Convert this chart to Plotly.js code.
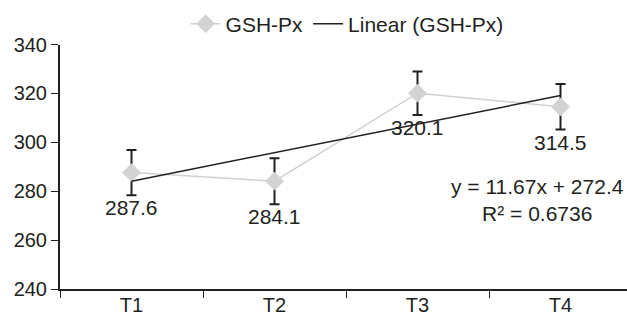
<!DOCTYPE html>
<html>
<head>
<meta charset="utf-8">
<script src="https://cdn.plot.ly/plotly-3.0.1.min.js"></script>
<style>html,body{margin:0;padding:0;background:#fff;}#chart{width:627px;height:320px;}</style>
</head>
<body>
<div id="chart"></div>
<script>
var categories = ["T1", "T2", "T3", "T4"];
var gshPx = [287.6, 284.1, 320.1, 314.5];
var gshPxErr = [9.3, 9.4, 8.9, 9.3];
var valueLabels = ["287.6", "284.1", "320.1", "314.5"];
var trendValues = [284.1, 295.7, 307.4, 319.1];
var yTicks = [240, 260, 280, 300, 320, 340];
var equationText = "y = 11.67x + 272.4<br>R\u00b2 = 0.6736";

var ink = "#231f20";
var font = "Liberation Sans, Arial, sans-serif";

var traces = [
  {
    x: categories, y: gshPx, name: "GSH-Px", type: "scatter", mode: "lines+markers",
    line: {color: "#d0d0d0", width: 1.5},
    marker: {symbol: "diamond", size: 14.5, color: "#d3d3d3"},
    error_y: {type: "data", array: gshPxErr, visible: true, color: ink, thickness: 2, width: 5}
  },
  {
    x: categories, y: trendValues, name: "Linear (GSH-Px)", type: "scatter", mode: "lines",
    line: {color: ink, width: 1.5}
  }
];

var annotations = categories.map(function (c, i) {
  return {x: c, y: gshPx[i] - gshPxErr[i], xref: "x", yref: "y", text: valueLabels[i],
          showarrow: false, yanchor: "top", yshift: 1, font: {family: font, size: 21, color: ink}};
});
annotations.push({x: 0.843, y: 276.3, xref: "paper", yref: "y", text: equationText, showarrow: false,
  xanchor: "center", yanchor: "middle", align: "center", font: {family: font, size: 21, color: ink}});

var layout = {
  width: 627, height: 320,
  margin: {l: 60, r: 0, t: 33, b: 31},
  paper_bgcolor: "#fff", plot_bgcolor: "#fff",
  font: {family: font, size: 20, color: ink},
  showlegend: true,
  legend: {orientation: "h", xref: "container", yref: "container", x: 0.296, y: 0.925,
           xanchor: "left", yanchor: "middle", font: {family: font, size: 21, color: ink},
           bgcolor: "rgba(0,0,0,0)"},
  xaxis: {type: "category", range: [-0.5, 3.465], showgrid: false, zeroline: false,
          showline: true, linecolor: ink, linewidth: 2, ticks: "outside", tickson: "boundaries",
          ticklen: 7, tickcolor: ink, tickwidth: 1, ticklabelstandoff: -3,
          tickfont: {family: font, size: 20, color: ink}},
  yaxis: {range: [240, 340], tickvals: yTicks, showgrid: false, zeroline: false,
          showline: true, linecolor: ink, linewidth: 2, ticks: "outside", ticklen: 7,
          tickcolor: ink, tickwidth: 1, tickfont: {family: font, size: 20, color: ink}},
  annotations: annotations
};

Plotly.newPlot("chart", traces, layout, {displayModeBar: false, staticPlot: true});
</script>
</body>
</html>
